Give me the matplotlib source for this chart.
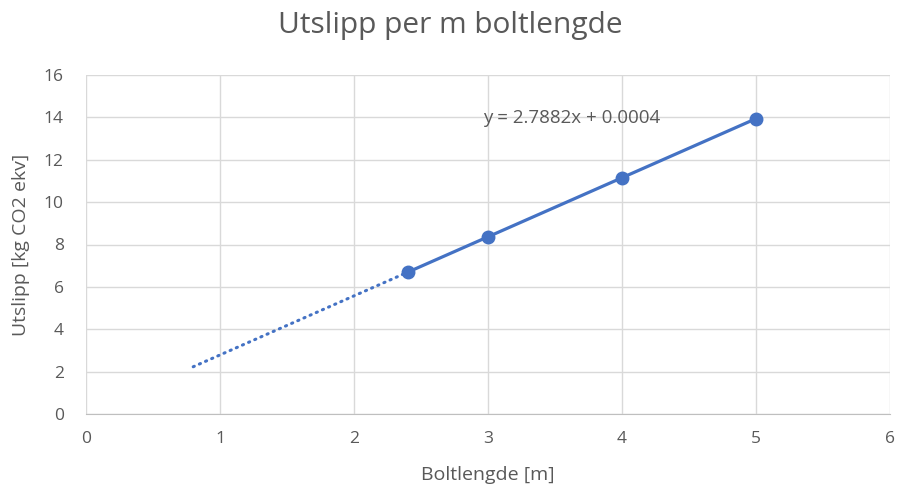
import numpy as np
import matplotlib
matplotlib.use("Agg")
import matplotlib.pyplot as plt

# Data
x_vals = [2.4, 3.0, 4.0, 5.0]
y_vals = [6.69, 8.365, 11.15, 13.94]
title = "Utslipp per m boltlengde"
x_label = "Boltlengde [m]"
y_label = "Utslipp [kg CO2 ekv]"
x_ticks = [0, 1, 2, 3, 4, 5, 6]
y_ticks = [0, 2, 4, 6, 8, 10, 12, 14, 16]
backward_start = 0.8

plt.rcParams['font.family'] = ['Open Sans', 'DejaVu Sans']
txt = '#595959'
blue = '#4472C4'

fig = plt.figure(figsize=(8.99, 4.93), dpi=100)
W, H = 899, 493
ax = fig.add_axes([86 / W, (H - 414) / H, (890 - 86) / W, (414 - 75) / H])

slope, intercept = np.polyfit(x_vals, y_vals, 1)
xs_solid = np.array([min(x_vals), max(x_vals)])
xs_dot = np.array([backward_start, min(x_vals)])
ax.plot(xs_dot, slope * xs_dot + intercept, color=blue, lw=2.2, ls=(0, (0.4, 1.8)),
        dash_capstyle='round', zorder=3)
ax.plot(xs_solid, slope * xs_solid + intercept, color=blue, lw=2.3, zorder=3)
ax.plot(x_vals, y_vals, 'o', color=blue, ms=9, zorder=4)

ax.text(2.96, 13.97, f"y = {2.7882:.4f}x + {0.0004:.4f}", fontsize=13.5, color=txt,
        ha='left', va='center')

ax.set_xlim(0, 6)
ax.set_ylim(0, 16)
ax.set_xticks(x_ticks)
ax.set_yticks(y_ticks)
ax.grid(True, color='#d9d9d9', lw=1)
ax.set_axisbelow(True)
for s in ['top', 'right', 'left']:
    ax.spines[s].set_visible(False)
ax.spines['bottom'].set_color('#bfbfbf')
ax.tick_params(length=0, labelsize=12.5, labelcolor=txt, pad=12)
ax.tick_params(axis='y', pad=16)
ax.set_xlabel(x_label, fontsize=14, color=txt, labelpad=14)
ax.set_ylabel(y_label, fontsize=14, color=txt, labelpad=10)
fig.text(450 / W, 1 - 25 / H, title, fontsize=21.5, color=txt, ha='center', va='center')

fig.savefig("out.png", dpi=100, facecolor='white')
